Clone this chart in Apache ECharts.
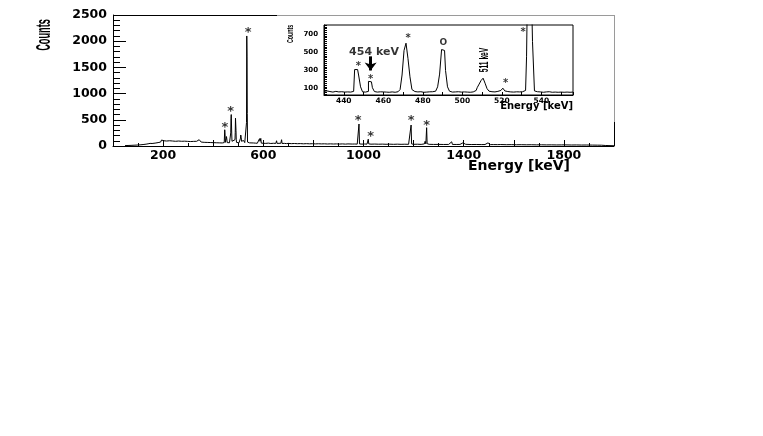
<!DOCTYPE html>
<html>
<head>
<meta charset="utf-8">
<script src="https://cdn.jsdelivr.net/npm/echarts@6/dist/echarts.min.js"></script>
<style>
  html, body { margin: 0; padding: 0; background: #fff; }
  #chart { width: 763px; height: 436px; }
</style>
</head>
<body>
<div id="chart"></div>
<script>
// Full spectrum, 0-2000 keV (energy in keV, counts per bin)
const mainEnergy = [
  48, 60, 72, 84, 96, 108, 120, 132, 140, 148, 156, 162, 168, 174, 180, 186, 190, 194, 197, 202,
  208, 214, 220, 226, 232, 238, 244, 250, 256, 262, 268, 274, 280, 286, 292, 298, 304, 310, 316, 322,
  328, 334, 340, 344, 347, 352, 358, 364, 370, 376, 382, 388, 394, 400, 406, 412, 418, 424, 430, 436,
  441, 444, 446, 447, 448, 449, 451, 452, 453, 454, 455, 456, 460, 465, 469, 470, 471, 472, 473, 474,
  475, 477, 482, 487, 488, 489, 490, 491, 492, 493, 494, 498, 503, 507, 509, 510, 511, 512, 513, 515,
  519, 520, 521, 522, 526, 531, 532, 533, 534, 535, 536, 537, 538, 545, 552, 560, 568, 576, 582, 585,
  587, 590, 592, 600, 610, 620, 630, 640, 650, 653, 655, 662, 670, 673, 675, 684, 692, 700, 712, 724,
  736, 748, 760, 772, 784, 796, 808, 820, 832, 844, 856, 868, 880, 892, 904, 916, 928, 938, 942, 945,
  955, 965, 975, 980, 982, 984, 994, 1004, 1014, 1017, 1019, 1021, 1030, 1045, 1060, 1075, 1090, 1105, 1120, 1135,
  1150, 1165, 1180, 1186, 1190, 1192, 1200, 1215, 1230, 1243, 1246, 1249, 1252, 1254, 1262, 1280, 1300, 1320, 1340, 1352,
  1355, 1370, 1385, 1397, 1400, 1408, 1411, 1414, 1430, 1450, 1470, 1485, 1497, 1499, 1503, 1506, 1520, 1535, 1548, 1551,
  1554, 1570, 1590, 1610, 1630, 1650, 1670, 1690, 1710, 1730, 1750, 1770, 1790, 1802, 1805, 1808, 1830, 1850, 1870, 1889,
  1892, 1895, 1915, 1935, 1950, 1965, 1980, 2000
];
const mainCounts = [
  8, 10, 12, 15, 18, 22, 28, 35, 42, 50, 48, 60, 55, 70, 65, 85, 75, 115, 85, 100,
  90, 95, 85, 100, 80, 95, 85, 90, 80, 95, 85, 90, 78, 92, 80, 88, 75, 85, 78, 88,
  80, 90, 95, 120, 85, 75, 72, 70, 74, 68, 70, 66, 68, 64, 66, 62, 64, 60, 62, 58,
  60, 65, 310, 250, 150, 70, 65, 90, 180, 170, 110, 65, 60, 62, 80, 250, 520, 600, 420, 230,
  90, 62, 60, 120, 260, 530, 520, 300, 130, 70, 62, 62, 60, 70, 150, 210, 215, 160, 90, 65,
  75, 90, 105, 75, 65, 80, 90, 450, 2100, 1700, 620, 75, 65, 60, 55, 58, 55, 52, 55, 140,
  90, 145, 55, 52, 50, 55, 48, 52, 50, 100, 50, 48, 52, 120, 48, 50, 46, 50, 45, 48,
  44, 46, 42, 45, 42, 44, 40, 43, 40, 42, 38, 41, 38, 40, 37, 40, 36, 40, 70, 38,
  37, 38, 36, 45, 420, 40, 36, 38, 36, 60, 130, 40, 35, 37, 34, 36, 33, 35, 32, 35,
  32, 34, 32, 40, 400, 40, 32, 34, 31, 40, 90, 40, 350, 45, 32, 30, 31, 29, 30, 80,
  30, 29, 30, 60, 30, 32, 55, 29, 28, 29, 27, 28, 60, 28, 50, 27, 27, 26, 28, 40,
  26, 25, 26, 24, 25, 23, 24, 22, 23, 21, 22, 20, 21, 22, 40, 20, 19, 20, 18, 19,
  40, 18, 17, 16, 15, 10, 8, 5
];

// Inset: zoom on 430-556 keV, 1 keV bins (bin centres)
const insetEnergy = [
  430, 431, 432, 433, 434, 435, 436, 437, 438, 439, 440, 441, 442, 443, 444, 445, 446, 447, 448, 449,
  450, 451, 452, 453, 454, 455, 456, 457, 458, 459, 460, 461, 462, 463, 464, 465, 466, 467, 468, 469,
  470, 471, 472, 473, 474, 475, 476, 477, 478, 479, 480, 481, 482, 483, 484, 485, 486, 487, 488, 489,
  490, 491, 492, 493, 494, 495, 496, 497, 498, 499, 500, 501, 502, 503, 504, 505, 506, 507, 508, 509,
  510, 511, 512, 513, 514, 515, 516, 517, 518, 519, 520, 521, 522, 523, 524, 525, 526, 527, 528, 529,
  530, 531, 532, 533, 534, 535, 536, 537, 538, 539, 540, 541, 542, 543, 544, 545, 546, 547, 548, 549,
  550, 551, 552, 553, 554, 555, 556
];
const insetCounts = [
  70, 75, 65, 68, 62, 66, 70, 64, 60, 66, 62, 60, 64, 62, 65, 70, 310, 310, 250, 120,
  65, 62, 70, 180, 175, 110, 68, 62, 65, 60, 64, 62, 66, 60, 64, 62, 60, 66, 64, 90,
  250, 520, 600, 430, 230, 90, 68, 64, 62, 66, 60, 64, 62, 65, 60, 66, 72, 80, 120, 260,
  530, 520, 300, 120, 72, 62, 64, 60, 66, 62, 60, 64, 62, 66, 60, 64, 70, 80, 110, 150,
  190, 215, 160, 100, 72, 66, 64, 66, 70, 80, 90, 105, 75, 68, 64, 66, 62, 65, 68, 64,
  66, 72, 80, 450, 2100, 1700, 620, 75, 66, 64, 66, 60, 64, 62, 66, 60, 64, 62, 60, 64,
  62, 60, 64, 62, 60, 64, 62
];

// Axis labels
const mainXLabels = [200, 600, 1000, 1400, 1800];
const insetXLabels = [440, 460, 480, 500, 520, 540];
const insetYLabels = [100, 300, 500, 700];

// Peak markers on the full spectrum (star positions)
const mainStarEnergy = [447, 470, 540, 979, 1029, 1190, 1252];
const mainStarCounts = [400, 720, 2230, 548, 242, 548, 445];

// Inset annotations
const insetMarkEnergy = [447.4, 453.6, 472.6, 521.9, 530.7, 490.4, 455.3];
const insetMarkCounts = [367, 224, 671, 184, 744, 605, 499];
const insetMarkText = ['*', '*', '*', '*', '*', 'O', '454 keV'];
// 511 keV label (rotated) and arrow pointing at the 454 keV line
const label511 = [511.5, 415];
const arrow454 = [[453.6, 455], [453.6, 300]];

const bold = 'DejaVu Sans';
const narrow = '"Liberation Sans", Arial, sans-serif';
const plain = v => String(v);

const insetYTicks = [];
for (let v = 40; v <= 800; v += 20) insetYTicks.push(v);

const chart = echarts.init(document.getElementById('chart'));

const insetMarks = insetMarkEnergy.map((e, i) => {
  const txt = insetMarkText[i];
  let label;
  if (txt === '454 keV') {
    label = { formatter: txt, fontFamily: bold, fontSize: 11, fontWeight: 'bold' };
  } else if (txt === 'O') {
    label = { formatter: txt, fontFamily: bold, fontSize: 9, fontWeight: 'bold' };
  } else {
    label = { formatter: txt, fontFamily: bold, fontSize: 10, fontWeight: 'bold', offset: [0, 2] };
  }
  return { value: [e, insetMarkCounts[i]], label };
});

const option = {
  animation: false,
  backgroundColor: '#fff',
  grid: [
    { left: 113, top: 15, right: 149, bottom: 290 },
    { left: 324, top: 25, width: 249, height: 70, show: true, borderColor: '#000', borderWidth: 1, backgroundColor: '#fff', z: 5 }
  ],
  xAxis: [
    {
      gridIndex: 0,
      type: 'value',
      min: 0,
      max: 2000,
      interval: 200,
      axisLine: { lineStyle: { color: '#000', width: 1 } },
      axisTick: { inside: true, length: 6, lineStyle: { color: '#000' } },
      minorTick: { show: true, splitNumber: 2, length: 3, lineStyle: { color: '#000' } },
      axisLabel: {
        customValues: mainXLabels, formatter: plain,
        color: '#000', fontFamily: bold, fontWeight: 'bold', fontSize: 12.5, margin: 3
      },
      splitLine: { show: false }
    },
    {
      gridIndex: 1,
      type: 'value',
      min: 430,
      max: 556,
      interval: 10,
      z: 6,
      axisLine: { lineStyle: { color: '#000', width: 1 } },
      axisTick: { inside: true, length: 3, lineStyle: { color: '#000' } },
      axisLabel: {
        customValues: insetXLabels, formatter: plain,
        color: '#000', fontFamily: bold, fontWeight: 'bold', fontSize: 7.5, margin: 2
      },
      splitLine: { show: false }
    }
  ],
  yAxis: [
    {
      gridIndex: 0,
      type: 'value',
      min: 0,
      max: 2500,
      interval: 500,
      axisLine: { show: true, lineStyle: { color: '#000', width: 1 } },
      axisTick: { show: true, inside: true, length: 13, lineStyle: { color: '#000' } },
      minorTick: { show: true, splitNumber: 5, length: 7, lineStyle: { color: '#000' } },
      axisLabel: { formatter: plain, color: '#000', fontFamily: bold, fontWeight: 'bold', fontSize: 12.5, margin: 6 },
      splitLine: { show: false }
    },
    {
      gridIndex: 1,
      type: 'value',
      min: 30,
      max: 800,
      z: 6,
      axisLine: { show: true, lineStyle: { color: '#000', width: 1 } },
      axisTick: { show: true, inside: true, length: 3, customValues: insetYTicks, lineStyle: { color: '#000' } },
      axisLabel: {
        customValues: insetYLabels, formatter: plain,
        color: '#000', fontFamily: bold, fontWeight: 'bold', fontSize: 7, margin: 6
      },
      splitLine: { show: false }
    }
  ],
  series: [
    {
      type: 'line',
      xAxisIndex: 0,
      yAxisIndex: 0,
      data: mainEnergy.map((e, i) => [e, mainCounts[i]]),
      symbol: 'none',
      lineStyle: { color: '#000', width: 1 },
      clip: true
    },
    {
      type: 'scatter',
      xAxisIndex: 0,
      yAxisIndex: 0,
      data: mainStarEnergy.map((e, i) => [e, mainStarCounts[i]]),
      symbolSize: 1,
      itemStyle: { color: 'rgba(0,0,0,0)' },
      label: {
        show: true, position: 'inside', formatter: '*', offset: [0, 3],
        color: '#000', fontFamily: bold, fontWeight: 'bold', fontSize: 13
      }
    },
    {
      type: 'line',
      xAxisIndex: 1,
      yAxisIndex: 1,
      z: 7,
      data: insetEnergy.map((e, i) => [e, insetCounts[i]]),
      step: 'middle',
      symbol: 'none',
      lineStyle: { color: '#000', width: 1 },
      clip: true
    },
    {
      type: 'scatter',
      xAxisIndex: 1,
      yAxisIndex: 1,
      z: 8,
      data: insetMarks,
      symbolSize: 1,
      itemStyle: { color: 'rgba(0,0,0,0)' },
      label: { show: true, position: 'inside', color: '#000' },
      markLine: {
        silent: true,
        symbol: ['none', 'arrow'],
        symbolSize: [9, 8],
        label: { show: false },
        lineStyle: { color: '#000', width: 3, type: 'solid' },
        data: [[{ coord: arrow454[0] }, { coord: arrow454[1] }]]
      }
    }
  ]
};

chart.setOption(option);

// texts that need condensed glyphs are drawn as scaled graphic text
const p511 = chart.convertToPixel({ gridIndex: 1 }, label511);
chart.setOption({
  graphic: [
    // frame of the main pad; the inset pad overlaps its top-right part
    { type: 'line', shape: { x1: 113, y1: 15.5, x2: 277, y2: 15.5 }, style: { stroke: '#000', lineWidth: 1 } },
    { type: 'line', shape: { x1: 277, y1: 15.5, x2: 614, y2: 15.5 }, style: { stroke: '#9a9a9a', lineWidth: 1 } },
    { type: 'line', shape: { x1: 614.5, y1: 15, x2: 614.5, y2: 122 }, style: { stroke: '#9a9a9a', lineWidth: 1 } },
    { type: 'line', shape: { x1: 614.5, y1: 122, x2: 614.5, y2: 146 }, style: { stroke: '#000', lineWidth: 1 } },
    {
      type: 'text', x: 44.5, y: 35, rotation: Math.PI / 2, scaleX: 0.46,
      style: { text: 'Counts', fill: '#000', font: 'bold 20px ' + narrow, align: 'center', verticalAlign: 'middle' }
    },
    {
      type: 'text', right: 193, top: 159,
      style: { text: 'Energy [keV]', fill: '#000', font: 'bold 14px ' + bold }
    },
    {
      type: 'text', x: 290.5, y: 34, rotation: Math.PI / 2, scaleX: 0.62,
      style: { text: 'Counts', fill: '#000', font: 'bold 8.5px ' + narrow, align: 'center', verticalAlign: 'middle' }
    },
    {
      type: 'text', right: 190, top: 101,
      style: { text: 'Energy [keV]', fill: '#000', font: 'bold 10px ' + bold }
    },
    {
      type: 'text', x: p511[0], y: p511[1], rotation: Math.PI / 2, scaleX: 0.56, z: 10,
      style: { text: '511 keV', fill: '#000', font: 'bold 12px ' + narrow, align: 'center', verticalAlign: 'middle' }
    }
  ]
});
</script>
</body>
</html>
